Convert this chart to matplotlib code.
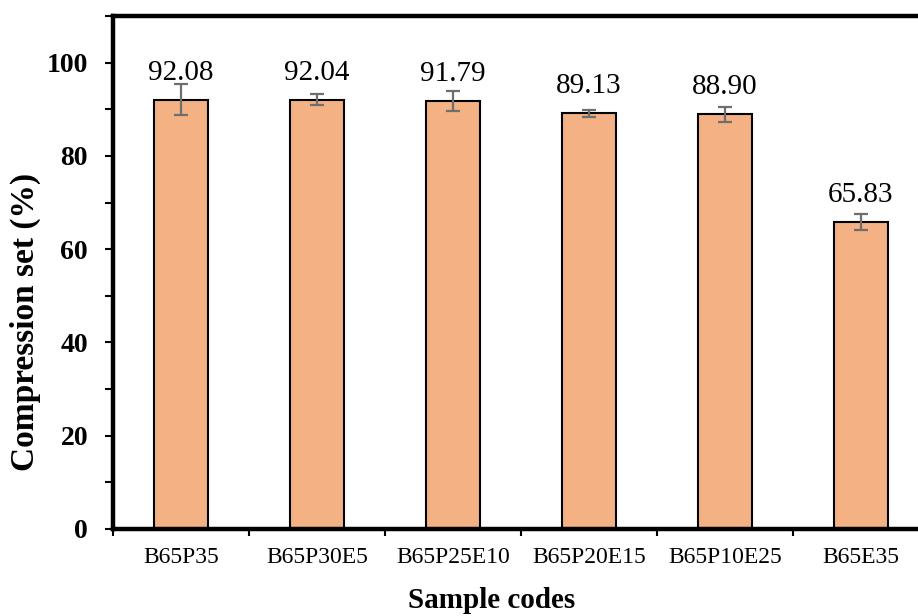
import numpy as np
import matplotlib.pyplot as plt
from matplotlib.ticker import MultipleLocator, FixedLocator

plt.rcParams['font.family'] = ['Liberation Serif', 'DejaVu Serif']

samples = ['B65P35', 'B65P30E5', 'B65P25E10', 'B65P20E15', 'B65P10E25', 'B65E35']
comp_set = [92.08, 92.04, 91.79, 89.13, 88.90, 65.83]
errors = [3.4, 1.2, 2.1, 0.7, 1.6, 1.7]

fig = plt.figure(figsize=(9.18, 6.16), dpi=100)
ax = fig.add_axes([113/918, 87/616, 816/918, 513/616])

x = np.arange(len(samples))
ax.bar(x, comp_set, width=0.39, color='#F4B183', edgecolor='black', linewidth=1.5,
       yerr=errors, error_kw=dict(ecolor='#6e6e6e', elinewidth=1.6, capsize=5, capthick=1.6),
       zorder=2)

for xi, v in zip(x, comp_set):
    ax.text(xi, v + 4.3, f'{v:.2f}', ha='center', va='baseline', fontsize=21)

ax.set_xlim(-0.5, len(samples) - 0.5)
ax.set_ylim(0, 110)
ax.yaxis.set_major_locator(FixedLocator([0, 20, 40, 60, 80, 100]))
ax.yaxis.set_minor_locator(MultipleLocator(10))

# category labels centred, ticks at category boundaries
ax.set_xticks(x)
ax.set_xticklabels(samples, fontsize=17)
ax.set_xticks(np.arange(-0.5, len(samples), 1.0), minor=True)
ax.tick_params(axis='x', which='major', length=0, pad=13)
ax.tick_params(axis='x', which='minor', length=5, width=1.5, direction='out')
ax.tick_params(axis='y', which='both', length=6, width=1.5, direction='out')
ax.tick_params(axis='y', which='major', labelsize=20, pad=12)
for lab in ax.get_yticklabels():
    lab.set_fontweight('bold')

for side in ['left', 'top', 'bottom', 'right']:
    ax.spines[side].set_linewidth(3.2)
    ax.spines[side].set_color('black')

ax.set_xlabel('Sample codes', fontsize=21, fontweight='bold')
ax.set_ylabel('Compression set (%)', fontsize=24, fontweight='bold')
ax.xaxis.set_label_coords((492 - 113) / 816, -(600 - 529) / 513)
ax.yaxis.set_label_coords(-(113 - 25) / 816, (529 - 322) / 513)
ax.xaxis.label.set_va('center')
ax.yaxis.label.set_va('center')

plt.savefig('out.png', dpi=100)
plt.close('all')
